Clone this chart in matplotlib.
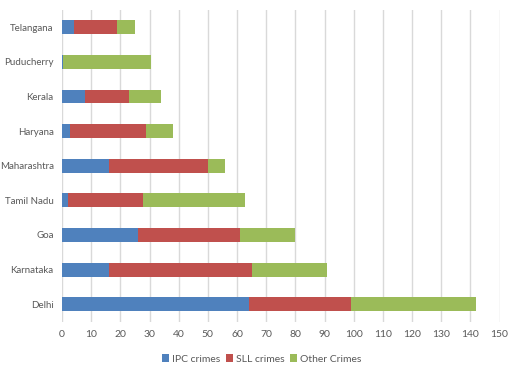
import matplotlib
matplotlib.use("Agg")
import matplotlib.pyplot as plt
import numpy as np

states = ["Delhi", "Karnataka", "Goa", "Tamil Nadu", "Maharashtra",
          "Haryana", "Kerala", "Puducherry", "Telangana"]
ipc = [64, 16, 26, 2.2, 16, 2.7, 8, 0.5, 4]
sll = [35, 49, 35, 25.7, 34, 26.2, 15, 0, 15]
other = [43, 26, 19, 35, 6, 9.3, 11, 30, 6]

plt.rcParams["font.family"] = ["Lato", "DejaVu Sans"]
txt = "#595959"

fig = plt.figure(figsize=(5.13, 3.70), dpi=100)
ax = fig.add_axes([0.1209, 0.131, 0.8528, 0.842])

y = np.arange(len(states))
ipc = np.array(ipc); sll = np.array(sll); other = np.array(other)
ax.barh(y, ipc, height=0.4, color="#4F81BD", label="IPC crimes", zorder=3)
ax.barh(y, sll, height=0.4, left=ipc, color="#C0504D", label="SLL crimes", zorder=3)
ax.barh(y, other, height=0.4, left=ipc + sll, color="#9BBB59", label="Other Crimes", zorder=3)

ax.set_xlim(0, 150)
ax.set_ylim(-0.5, len(states) - 0.5)
ax.set_xticks(range(0, 151, 10))
ax.set_yticks(y)
ax.set_yticklabels(states)
ax.grid(axis="x", color="#d9d9d9", linewidth=1, zorder=0)
for s in ax.spines.values():
    s.set_visible(False)
ax.tick_params(axis="y", length=0, labelsize=7, colors=txt, pad=6)
ax.tick_params(axis="x", length=0, labelsize=7.5, colors=txt, pad=6)

fig.legend(loc="center", bbox_to_anchor=(0.51, 0.03), ncol=3, frameon=False,
           fontsize=7.5, handlelength=0.7, handleheight=0.7, handletextpad=0.3,
           columnspacing=0.5, labelcolor=txt)

fig.savefig("out.png", dpi=100)
